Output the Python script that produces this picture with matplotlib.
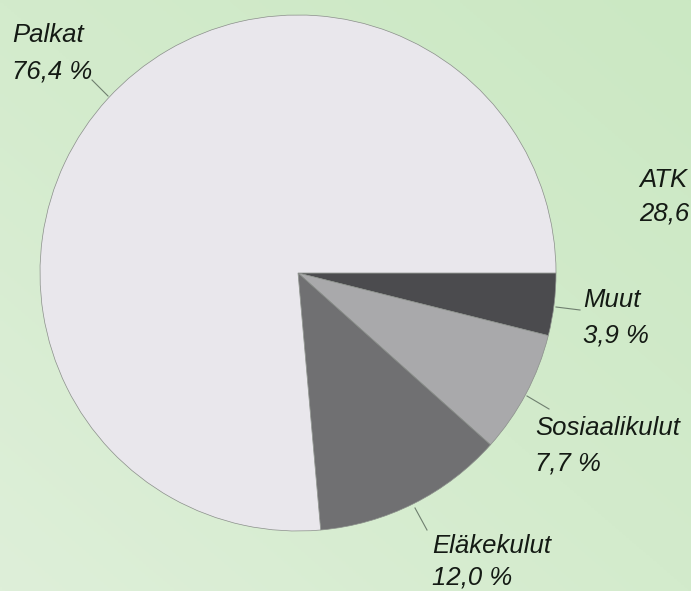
import numpy as np
import matplotlib
matplotlib.use("Agg")
import matplotlib.pyplot as plt
from matplotlib.colors import LinearSegmentedColormap

# ---- data ----
categories = ["Muut", "Sosiaalikulut", "Eläkekulut", "Palkat"]
values = [3.9, 7.7, 12.0, 76.4]
value_labels = ["3,9 %", "7,7 %", "12,0 %", "76,4 %"]
extra_label = ["ATK", "28,6"]

# ---- style / layout ----
colors = ["#4b4b4e", "#a9a9ab", "#707072", "#e9e7ec"]
W, H = 691, 591
cx, cy, R = 298, H - 273, 258
text_color = "#141a14"
lead_color = "#6f7f6f"
font = dict(family=["Liberation Sans", "DejaVu Sans"], style="italic",
            fontsize=18.5, color=text_color)

fig = plt.figure(figsize=(W / 100, H / 100), dpi=100)
ax = fig.add_axes([0, 0, 1, 1])
ax.set_xlim(0, W)
ax.set_ylim(0, H)
ax.axis("off")

# background gradient (lighter bottom-left, greener top-right)
gx, gy = np.meshgrid(np.linspace(0, 1, 200), np.linspace(0, 1, 200))
grad = (gx * 0.5 + gy * 0.5)
cmap = LinearSegmentedColormap.from_list("bg", ["#deefd9", "#d3ebcc", "#cbe8c3"])
ax.imshow(grad, extent=[0, W, 0, H], origin="lower", cmap=cmap,
          aspect="auto", zorder=0)

wedges, _ = ax.pie(values, colors=colors, startangle=0, counterclock=False,
                   center=(cx, cy), radius=R, frame=False,
                   wedgeprops=dict(edgecolor="#8a8e8a", linewidth=0.5))
for w in wedges:
    w.set_zorder(2)
ax.set_xlim(0, W)
ax.set_ylim(0, H)
ax.set_aspect("equal")

# label layout: (x_left, baseline1_img, baseline2_img), leader line in image px
layouts = {
    "Muut": ((583, 307, 342), ((556, 307), (580, 310))),
    "Sosiaalikulut": ((535, 435, 470), ((527, 396), (549, 409))),
    "Eläkekulut": ((432, 553, 585), ((415, 508), (427, 530))),
    "Palkat": ((12, 42, 78), ((108, 96), (92, 80))),
}
for cat, vl in zip(categories, value_labels):
    (x0, b1, b2), ((lx1, ly1), (lx2, ly2)) = layouts[cat]
    ax.text(x0, H - b1, cat, va="baseline", ha="left", zorder=3, **font)
    ax.text(x0, H - b2, vl, va="baseline", ha="left", zorder=3, **font)
    ax.plot([lx1, lx2], [H - ly1, H - ly2], color=lead_color, lw=0.8, zorder=3)

ax.text(639, H - 187, extra_label[0], va="baseline", ha="left", zorder=3, **font)
ax.text(639, H - 220, extra_label[1], va="baseline", ha="left", zorder=3, **font)

fig.savefig("out.png", dpi=100)
